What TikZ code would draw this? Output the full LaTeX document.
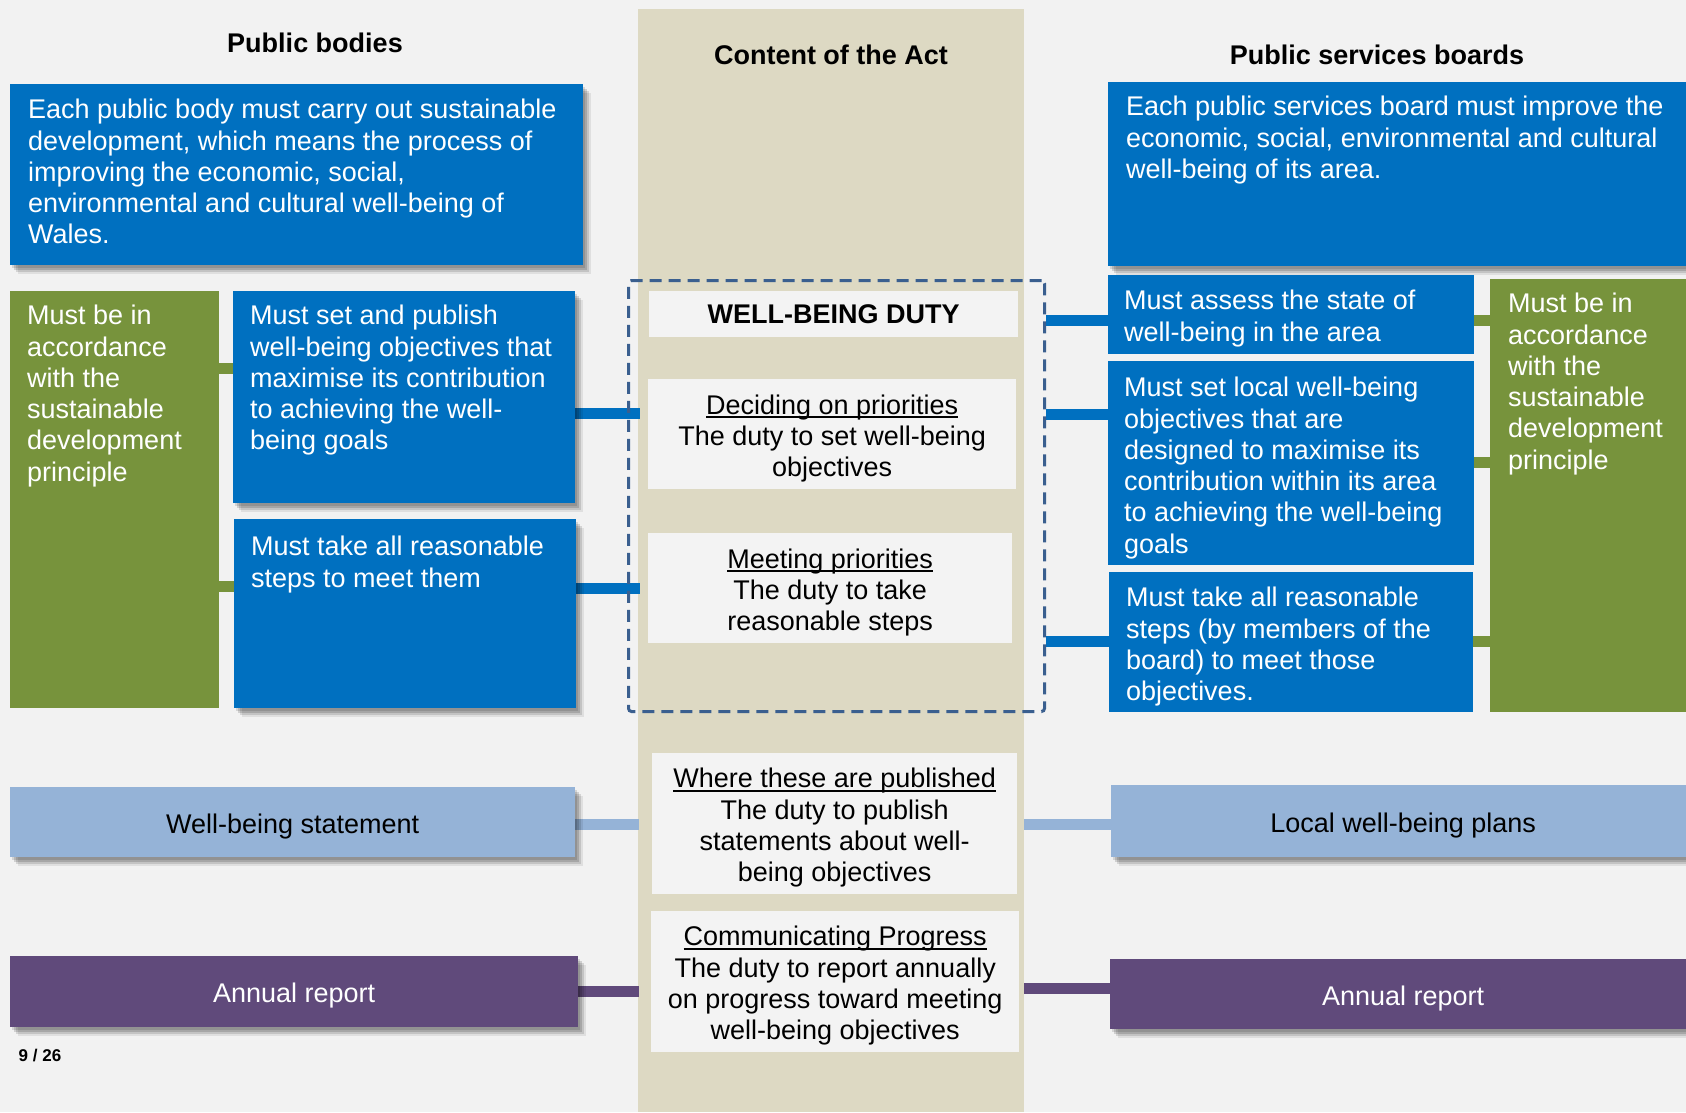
\documentclass[tikz,border=0pt]{standalone}
\usepackage{fontspec}
\setmainfont{Liberation Sans}
\usetikzlibrary{shadows}
\definecolor{bgc}{HTML}{F2F2F2}
\definecolor{beige}{HTML}{DDD9C3}
\definecolor{pblue}{HTML}{0070C0}
\definecolor{pgreen}{HTML}{77933C}
\definecolor{lblue}{HTML}{95B3D7}
\definecolor{purp}{HTML}{604A7B}
\definecolor{dashc}{HTML}{3A5F8F}
\definecolor{wbox}{HTML}{F3F3F3}
\pgfdeclarelayer{bg}\pgfdeclarelayer{conn}\pgfsetlayers{bg,conn,main}
\newcommand\ulin[1]{\setbox0\hbox{#1}\rlap{\rule[-4pt]{\wd0}{2pt}}\box0}
\newcommand\tstrut{\rule{0pt}{28pt}}
\begin{document}
\begin{tikzpicture}[x=1pt,y=-1pt,
  txt/.style={font=\fontsize{27}{31.3}\selectfont},
  ttl/.style={font=\bfseries\fontsize{27}{31.3}\selectfont},
  box/.style={draw=none, inner sep=0, anchor=north west, minimum width=#1},
  shad/.style={
    drop shadow={shadow xshift=2pt, shadow yshift=-3pt, opacity=0.12, fill=black},
    drop shadow={shadow xshift=4pt, shadow yshift=-5pt, opacity=0.14, fill=black},
    drop shadow={shadow xshift=6pt, shadow yshift=-7pt, opacity=0.12, fill=black},
    drop shadow={shadow xshift=8pt, shadow yshift=-9pt, opacity=0.08, fill=black}},
  bluebox/.style={box=#1, fill=pblue},
  greenbox/.style={box=#1, fill=pgreen},
  wtxt/.style={txt, text=white, align=left, inner sep=0, anchor=north west},
  ctxt/.style={txt, text=black, align=center},
  stxt/.style={txt, text=black, align=center, text height=28pt},
  conn/.style={line width=11pt},
]
\useasboundingbox (0,0) rectangle (1686,1112);
\begin{pgfonlayer}{bg}
  \fill[bgc] (0,0) rectangle (1686,1112);
  \fill[beige] (638,9) rectangle (1024,1112);
\end{pgfonlayer}

% titles
\node[ttl] (t1) at (315,43) {Public bodies};
\node[ttl] (t2) at (831,55) {Content of the Act};
\node[ttl] (t3) at (1377,55) {Public services boards};

% left column
\node[bluebox=573, minimum height=181, shad] (pbtop) at (10,84) {};
\node[wtxt] (pbtopt) at (28,99) {Each public body must carry out sustainable\\development, which means the process of\\improving the economic, social,\\environmental and cultural well-being of\\Wales.};
\node[greenbox=209, minimum height=417] (gl) at (10,291) {};
\node[wtxt] (glt) at (27,305) {Must be in\\accordance\\with the\\sustainable\\development\\principle};
\node[bluebox=342, minimum height=212, shad] (pb2) at (233,291) {};
\node[wtxt] (pb2t) at (250,305) {Must set and publish\\well-being objectives that\\maximise its contribution\\to achieving the well-\\being goals};
\node[bluebox=342, minimum height=189, shad] (pb3) at (234,519) {};
\node[wtxt] (pb3t) at (251,536) {Must take all reasonable\\steps to meet them};
\node[box=565, minimum height=70, fill=lblue, shad, stxt] (ws) at (10,787) {Well-being statement};
\node[box=568, minimum height=71, fill=purp, shad, stxt, text=white] (arl) at (10,956) {Annual report};
\node[font=\bfseries\fontsize{17}{20}\selectfont] (pg) at (40,1055) {9 / 26};

% centre column
\node[box=369, minimum height=46, fill=wbox, ttl] (wbd) at (649,291) {WELL-BEING DUTY};
\node[box=368, minimum height=110, fill=wbox, ctxt] (dec) at (648,379) {\tstrut\ulin{Deciding on priorities}\\The duty to set well-being\\objectives};
\node[box=364, minimum height=110, fill=wbox, ctxt] (meet) at (648,533) {\tstrut\ulin{Meeting priorities}\\The duty to take\\reasonable steps};
\node[box=416, minimum height=431, draw=dashc, line width=3pt, dash pattern=on 12pt off 7pt, rounded corners=3pt] (duty) at (627,279) {};
\node[box=365, minimum height=141, fill=wbox, ctxt] (where) at (652,753) {\tstrut\ulin{Where these are published}\\The duty to publish\\statements about well-\\being objectives};
\node[box=368, minimum height=141, fill=wbox, ctxt] (comm) at (651,911) {\tstrut\ulin{Communicating Progress}\\The duty to report annually\\on progress toward meeting\\well-being objectives};

% right column
\node[bluebox=600, minimum height=184, shad] (psb) at (1108,82) {};
\node[wtxt] (psbt) at (1126,96) {Each public services board must improve the\\economic, social, environmental and cultural\\well-being of its area.};
\node[bluebox=366, minimum height=79] (assess) at (1108,275) {};
\node[wtxt] (assesst) at (1124,290) {Must assess the state of\\well-being in the area};
\node[bluebox=366, minimum height=204] (setloc) at (1108,361) {};
\node[wtxt] (setloct) at (1124,377) {Must set local well-being\\objectives that are\\designed to maximise its\\contribution within its area\\to achieving the well-being\\goals};
\node[bluebox=364, minimum height=140] (take) at (1109,572) {};
\node[wtxt] (taket) at (1126,587) {Must take all reasonable\\steps (by members of the\\board) to meet those\\objectives.};
\node[greenbox=210, minimum height=433] (gr) at (1490,279) {};
\node[wtxt] (grt) at (1508,293) {Must be in\\accordance\\with the\\sustainable\\development\\principle};
\node[box=584, minimum height=72, fill=lblue, shad, stxt] (lwp) at (1111,785) {Local well-being plans};
\node[box=586, minimum height=70, fill=purp, shad, stxt, text=white] (arr) at (1110,959) {Annual report};

% connectors
\begin{pgfonlayer}{conn}
  \draw[conn, pgreen] (gl.east |- 0,368) -- (pb2.west |- 0,368);
  \draw[conn, pgreen] (gl.east |- 0,586) -- (pb3.west |- 0,586);
  \draw[conn, pblue, shorten >=8pt] (pb2.east |- 0,413) -- (dec.west |- 0,413);
  \draw[conn, pblue, shorten >=8pt] (pb3.east |- 0,588) -- (meet.west |- 0,588);
  \draw[conn, lblue, shorten >=13pt] (ws.east |- 0,824) -- (where.west |- 0,824);
  \draw[conn, purp, shorten >=12pt] (arl.east |- 0,991) -- (comm.west |- 0,991);
  \draw[conn, pblue] (duty.east |- 0,320) -- (assess.west |- 0,320);
  \draw[conn, pblue] (duty.east |- 0,414) -- (setloc.west |- 0,414);
  \draw[conn, pblue] (duty.east |- 0,641) -- (take.west |- 0,641);
  \draw[conn, pgreen] (assess.east |- 0,320) -- (gr.west |- 0,320);
  \draw[conn, pgreen] (setloc.east |- 0,462) -- (gr.west |- 0,462);
  \draw[conn, pgreen] (take.east |- 0,641) -- (gr.west |- 0,641);
  \draw[conn, lblue, shorten <=7pt] (where.east |- 0,824) -- (lwp.west |- 0,824);
  \draw[conn, purp, shorten <=5pt] (comm.east |- 0,988) -- (arr.west |- 0,988);
\end{pgfonlayer}
\end{tikzpicture}
\end{document}
